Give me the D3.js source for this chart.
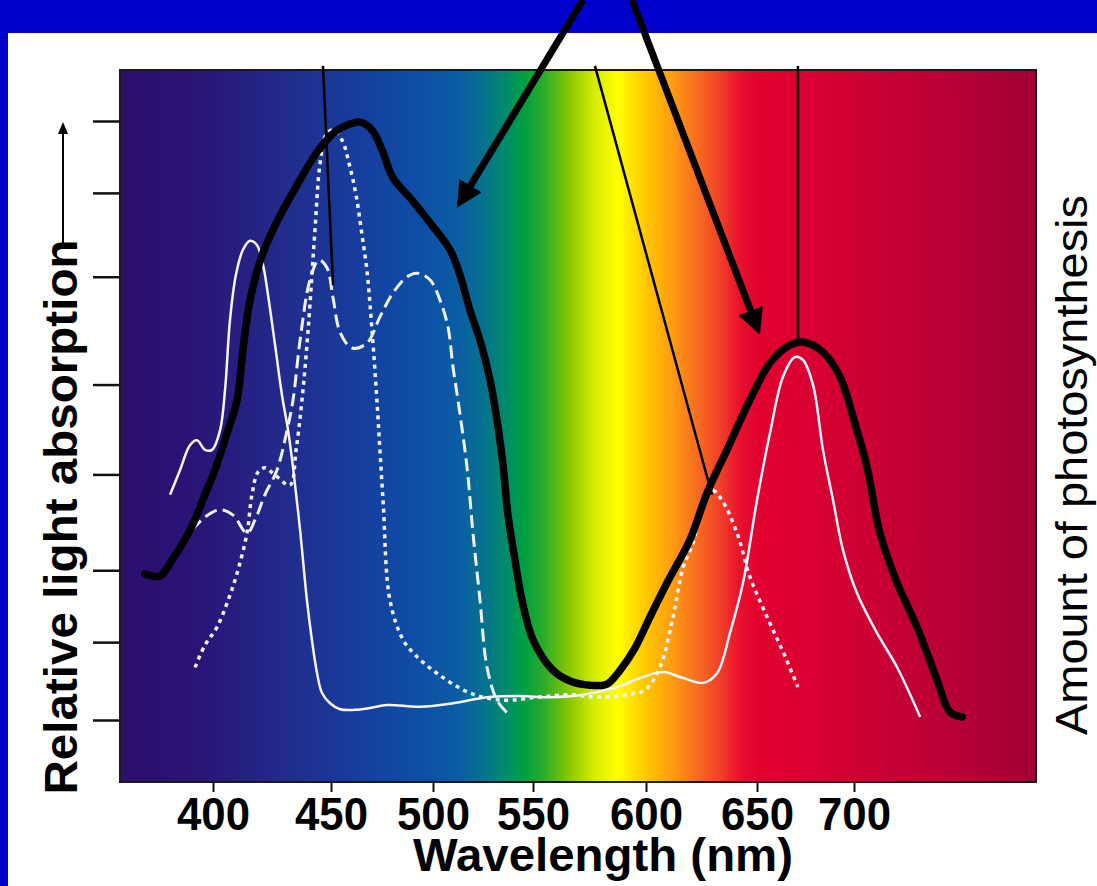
<!DOCTYPE html>
<html>
<head>
<meta charset="utf-8">
<script src="https://cdn.jsdelivr.net/npm/d3@7"></script>
<style>
  body { margin: 0; background: #fff; }
  svg { display: block; }
</style>
</head>
<body>
<div id="plot"></div>
<script>
const w = 1097, h = 886;
const plot = {left: 120, right: 1036, top: 70, bottom: 782};
const font = "'Liberation Sans', Arial, sans-serif";

// axis ticks
const xTicks = [400, 450, 500, 550, 600, 650, 700];
const yTicks = [0, 13, 25, 41, 56, 74, 88, 100];

// photosynthesis (action spectrum), thick black
const actionNm = [371, 377.5, 382.6, 390.3, 396.6, 400.8, 406.4, 410.2, 412.7, 415.7, 420.8, 427.5, 435.6, 444.1, 452, 459.3, 464.2, 470.1, 475, 480.4, 489.7, 499.5, 508.5, 513.5, 518.5, 523.5, 528.5, 532, 535, 537.5, 541, 544.5, 550, 558.8, 566.4, 575.2, 582.7, 588.5, 595.1, 601.8, 609.5, 619.8, 627.5, 636.5, 646.8, 656.7, 667, 673.7, 684, 692.8, 699.5, 706.7, 713.4, 722.2, 732.5, 742.8, 749.5, 755.7];
const actionVal = [24.4, 24.0, 26.7, 31.7, 37.6, 41.7, 48.4, 53.4, 61.8, 70.1, 77.6, 83.5, 89.3, 94.8, 98.2, 99.5, 99.8, 98.5, 95.2, 90.5, 86.8, 82.6, 78.5, 74.3, 68.4, 63.4, 56.8, 50.1, 42.6, 34.2, 26.7, 20.0, 13.4, 8.3, 6.5, 5.8, 6.0, 8.3, 12.0, 17.2, 22.9, 30.1, 37.9, 45.1, 53.4, 59.6, 62.6, 63.1, 61.4, 57.3, 50.6, 42.2, 31.2, 22.9, 15.5, 6.7, 1.3, 0.5];

// absorption, solid white
const solidNm = [381.8, 386.0, 390.3, 393.2, 396.6, 399.6, 403.0, 405.1, 407.2, 409.7, 412.7, 415.7, 418.6, 421.2, 423.3, 426.3, 429.2, 431.8, 433.9, 436.9, 439.8, 441.9, 444.1, 446.2, 449.6, 454.4, 461.8, 469.1, 477.5, 493.6, 510.0, 527.0, 543.5, 557.5, 572.1, 587.2, 597.3, 607.7, 616.7, 625.7, 632.0, 637.8, 643.7, 650.0, 656.7, 663.4, 669.6, 673.7, 678.9, 684.0, 689.2, 694.3, 701.5, 711.9, 722.2, 734.1];
const solidVal = [37.6, 41.7, 45.9, 46.7, 45.1, 45.1, 48.4, 55.1, 66.8, 74.3, 78.5, 80.0, 79.3, 76.0, 71.0, 62.6, 54.3, 48.4, 42.2, 31.7, 20.0, 13.4, 7.8, 4.5, 2.8, 1.8, 1.7, 2.0, 2.5, 2.2, 2.8, 3.8, 4.0, 3.8, 4.2, 5.5, 7.0, 8.0, 7.0, 6.2, 7.8, 14.5, 22.9, 36.7, 47.9, 57.3, 60.6, 60.1, 55.9, 45.1, 36.7, 28.4, 21.2, 14.5, 8.8, 0.5];

// absorption, dotted white
const dottedNm = [392.4, 396.6, 401.7, 406.4, 410.2, 414.4, 416.5, 419.1, 422.0, 426.3, 432.6, 435.2, 437.7, 440.3, 443.2, 445.3, 447.9, 451.0, 455.4, 459.3, 462.3, 465.2, 467.6, 470.1, 472.5, 475.5, 478.9, 485.3, 491.2, 502.0, 518.5, 535.0, 551.8, 566.4, 579.6, 592.9, 599.6, 606.3, 612.2, 616.7, 621.2, 625.7, 629.7, 634.2, 641.0, 646.8, 655.2, 663.4, 671.1];
const dottedVal = [8.8, 12.5, 15.5, 20.0, 24.5, 31.2, 37.6, 41.4, 42.1, 40.9, 39.2, 45.1, 53.4, 65.1, 81.8, 92.7, 97.7, 98.5, 96.8, 92.3, 87.6, 81.0, 75.1, 65.1, 53.4, 36.7, 20.0, 13.4, 10.9, 7.8, 4.5, 3.3, 3.8, 4.2, 3.8, 4.3, 5.0, 8.8, 17.2, 25.5, 29.5, 35.9, 38.4, 36.7, 31.2, 23.9, 17.2, 11.4, 5.5];

// absorption, long dashed white
const dashedNm = [391.1, 396.6, 403.0, 408.5, 414.4, 417.8, 422.0, 427.1, 431.4, 433.9, 436.9, 441.1, 444.9, 448.3, 451.0, 454.4, 460.3, 467.6, 474.0, 480.4, 487.3, 492.2, 498.5, 503.5, 507.5, 510.0, 512.5, 517.0, 520.0, 523.5, 527.0, 532.0, 537.0];
const dashedVal = [31.7, 33.9, 35.1, 34.2, 31.2, 33.4, 37.6, 41.7, 48.4, 53.4, 63.4, 73.5, 76.8, 75.5, 70.5, 64.8, 62.1, 62.9, 67.3, 71.3, 74.0, 74.6, 73.5, 70.1, 65.6, 58.9, 53.4, 42.2, 31.2, 20.0, 8.8, 3.3, 1.2];

// thin leader lines (from top edge down to a curve)
const leaderFromNm = [446.6, 577.4, 671.1];
const leaderFromVal = [109.2, 109.2, 109.2];
const leaderToNm = [451.0, 629.7, 671.1];
const leaderToVal = [72.6, 37.6, 63.1];

// thick pointer arrows coming from the title band
const arrowFromNm = [572.1, 593.8];
const arrowFromVal = [120.2, 120.2];
const arrowToNm = [512.0, 651.5];
const arrowToVal = [85.5, 64.3];

// visible spectrum background
const spectrumNm = [360.6, 394.5, 428.4, 464.2, 493.6, 513.2, 525.5, 535.8, 546.0, 555.3, 566.4, 577.4, 587.6, 599.6, 610.8, 622.1, 633.4, 642.3, 651.5, 697.9, 749.5, 793.8];
const spectrumColor = ["#2b0f6c", "#2a1477", "#222a8a", "#163e9e", "#0d4ea6", "#0a5ea2", "#06728e", "#008a6a", "#00a040", "#30ad28", "#8cc800", "#d8ec00", "#ffff00", "#ffc800", "#ffa010", "#f87020", "#f04028", "#e8102c", "#e20030", "#d00032", "#b80036", "#a00035"];

// scales (x is calibrated on the printed tick marks)
const xScale = d3.scaleLinear().domain(xTicks).range([213, 331, 433, 533, 646, 757, 854]);
const yScale = d3.scaleLinear().domain([0, 100]).range([720, 121]);

const svg = d3.select("div#plot")
  .append("svg")
  .attr("width", w)
  .attr("height", h)
  .style("font-family", font);

const defs = svg.append("defs");

// spectrum gradient
defs.append("linearGradient")
  .attr("id", "spectrum")
  .attr("gradientUnits", "userSpaceOnUse")
  .attr("x1", plot.left).attr("x2", plot.right)
  .attr("y1", 0).attr("y2", 0)
  .selectAll("stop")
  .data(d3.zip(spectrumNm, spectrumColor))
  .enter()
  .append("stop")
  .attr("offset", d => (xScale(d[0]) - plot.left) / (plot.right - plot.left))
  .attr("stop-color", d => d[1]);

// arrow heads
const headLen = 26;
defs.append("marker")
  .attr("id", "bighead")
  .attr("viewBox", "0 0 26 26")
  .attr("refX", 0).attr("refY", 13)
  .attr("markerWidth", 26).attr("markerHeight", 26)
  .attr("markerUnits", "userSpaceOnUse")
  .attr("orient", "auto")
  .append("path")
  .attr("d", "M0,0 L26,13 L0,26 Z")
  .attr("fill", "#000");

defs.append("marker")
  .attr("id", "smallhead")
  .attr("viewBox", "0 0 12 10")
  .attr("refX", 0).attr("refY", 5)
  .attr("markerWidth", 12).attr("markerHeight", 10)
  .attr("markerUnits", "userSpaceOnUse")
  .attr("orient", "auto")
  .append("path")
  .attr("d", "M0,0 L12,5 L0,10 Z")
  .attr("fill", "#000");

// slide frame
svg.append("rect").attr("x", 0).attr("y", 0).attr("width", w).attr("height", 33).attr("fill", "#0000cc");
svg.append("rect").attr("x", 0).attr("y", 0).attr("width", 8).attr("height", h).attr("fill", "#0000cc");

// plot area
svg.append("rect")
  .attr("id", "plotarea")
  .attr("x", plot.left)
  .attr("y", plot.top)
  .attr("width", plot.right - plot.left)
  .attr("height", plot.bottom - plot.top)
  .attr("fill", "url(#spectrum)")
  .attr("stroke", "#1a1a1a")
  .attr("stroke-width", 2);

// curves
const line = d3.line()
  .x(d => xScale(d[0]))
  .y(d => yScale(d[1]))
  .curve(d3.curveCatmullRom.alpha(0.5));

const curves = svg.append("g").attr("id", "curves").attr("fill", "none");

curves.append("path")
  .datum(d3.zip(dashedNm, dashedVal))
  .attr("d", line)
  .attr("stroke", "#eef2ff")
  .attr("stroke-width", 3)
  .attr("stroke-dasharray", "13,6");

curves.append("path")
  .datum(d3.zip(dottedNm, dottedVal))
  .attr("d", line)
  .attr("stroke", "#eef2ff")
  .attr("stroke-width", 3.5)
  .attr("stroke-dasharray", "4,4.5");

curves.append("path")
  .datum(d3.zip(solidNm, solidVal))
  .attr("d", line)
  .attr("stroke", "#f6f4ff")
  .attr("stroke-width", 2.5);

curves.append("path")
  .datum(d3.zip(actionNm, actionVal))
  .attr("d", line)
  .attr("stroke", "#000")
  .attr("stroke-width", 7.5)
  .attr("stroke-linejoin", "round")
  .attr("stroke-linecap", "round");

// leader lines
svg.append("g")
  .attr("id", "leaders")
  .selectAll("line")
  .data(d3.range(leaderFromNm.length))
  .enter()
  .append("line")
  .attr("x1", i => xScale(leaderFromNm[i]))
  .attr("y1", i => yScale(leaderFromVal[i]))
  .attr("x2", i => xScale(leaderToNm[i]))
  .attr("y2", i => yScale(leaderToVal[i]))
  .attr("stroke", "#000")
  .attr("stroke-width", 2.5);

// pointer arrows, shaft stops where the head begins
const arrows = d3.range(arrowFromNm.length).map(i => {
  const x1 = xScale(arrowFromNm[i]), y1 = yScale(arrowFromVal[i]);
  const x2 = xScale(arrowToNm[i]), y2 = yScale(arrowToVal[i]);
  const len = Math.hypot(x2 - x1, y2 - y1);
  return {x1, y1, x2: x2 - (x2 - x1) / len * headLen, y2: y2 - (y2 - y1) / len * headLen};
});

svg.append("g")
  .attr("id", "arrows")
  .selectAll("line")
  .data(arrows)
  .enter()
  .append("line")
  .attr("x1", d => d.x1).attr("y1", d => d.y1)
  .attr("x2", d => d.x2).attr("y2", d => d.y2)
  .attr("stroke", "#000")
  .attr("stroke-width", 7)
  .attr("marker-end", "url(#bighead)");

// y axis (ticks only)
const yAxis = d3.axisLeft(yScale).tickValues(yTicks).tickSize(27).tickFormat("");
svg.append("g")
  .attr("id", "yaxis")
  .attr("transform", `translate(${plot.left}, 0)`)
  .call(yAxis)
  .call(g => g.select(".domain").remove())
  .call(g => g.selectAll(".tick line").attr("stroke", "#111").attr("stroke-width", 2.5));

// x axis
const xAxis = d3.axisBottom(xScale).tickValues(xTicks).tickSize(10);
svg.append("g")
  .attr("id", "xaxis")
  .attr("transform", `translate(0, ${plot.bottom})`)
  .call(xAxis)
  .call(g => g.select(".domain").remove())
  .call(g => g.selectAll(".tick line").attr("stroke", "#111").attr("stroke-width", 2))
  .call(g => g.selectAll(".tick text")
    .attr("y", 48)
    .attr("dy", 0)
    .attr("fill", "#000")
    .attr("font-family", font)
    .attr("font-weight", "bold")
    .attr("font-size", 47)
    .attr("textLength", 73)
    .attr("lengthAdjust", "spacingAndGlyphs"));

// x label
svg.append("text")
  .attr("id", "xlab")
  .attr("x", 603)
  .attr("y", 871)
  .attr("text-anchor", "middle")
  .attr("font-weight", "bold")
  .attr("font-size", 47)
  .attr("textLength", 380)
  .attr("lengthAdjust", "spacingAndGlyphs")
  .text("Wavelength (nm)");

// y label with its arrow
svg.append("text")
  .attr("id", "ylab")
  .attr("transform", "translate(77, 517) rotate(-90)")
  .attr("text-anchor", "middle")
  .attr("font-weight", "bold")
  .attr("font-size", 46)
  .attr("textLength", 555)
  .attr("lengthAdjust", "spacingAndGlyphs")
  .text("Relative light absorption");

svg.append("line")
  .attr("x1", 63).attr("y1", 243)
  .attr("x2", 63).attr("y2", 134)
  .attr("stroke", "#000")
  .attr("stroke-width", 2)
  .attr("marker-end", "url(#smallhead)");

// right label
svg.append("text")
  .attr("id", "ylab2")
  .attr("transform", "translate(1087, 465) rotate(-90)")
  .attr("text-anchor", "middle")
  .attr("font-size", 44)
  .attr("textLength", 540)
  .attr("lengthAdjust", "spacingAndGlyphs")
  .text("Amount of photosynthesis");
</script>
</body>
</html>
